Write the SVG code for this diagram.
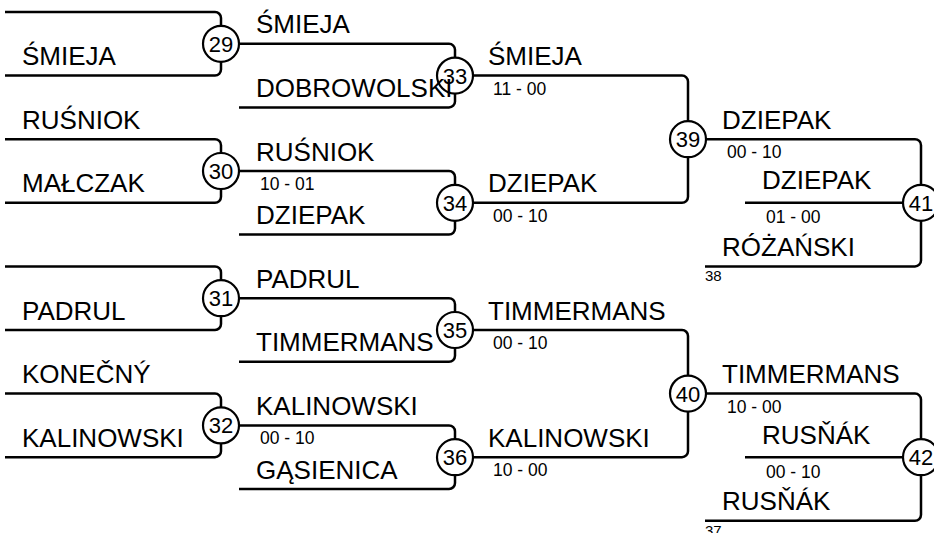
<svg xmlns="http://www.w3.org/2000/svg" width="934" height="533" viewBox="0 0 934 533">
<style>
.c{fill:none;stroke:#000;stroke-width:2.5;stroke-linecap:butt}
.n{fill:#fff;stroke:#000;stroke-width:2.2}
.t{font-family:"Liberation Sans",Arial,sans-serif;font-size:26px;fill:#000}
.s{font-family:"Liberation Sans",Arial,sans-serif;font-size:17.5px;fill:#000}
.k{font-family:"Liberation Sans",Arial,sans-serif;font-size:22px;fill:#000;text-anchor:middle}
.f{font-family:"Liberation Sans",Arial,sans-serif;font-size:15px;fill:#000}
</style>
<rect width="934" height="533" fill="#fff"/>
<g id="connectors">
<path class="c" d="M5,12 H215 A6,6 0 0 1 221,18 V25.8 M221,61.8 V69.6 A6,6 0 0 1 215,75.6 H5"/>
<path class="c" d="M5,139.2 H215 A6,6 0 0 1 221,145.2 V153 M221,189 V196.8 A6,6 0 0 1 215,202.8 H5"/>
<path class="c" d="M5,266.4 H215 A6,6 0 0 1 221,272.4 V280.2 M221,316.2 V324 A6,6 0 0 1 215,330 H5"/>
<path class="c" d="M5,393.6 H215 A6,6 0 0 1 221,399.6 V407.4 M221,443.4 V451.2 A6,6 0 0 1 215,457.2 H5"/>
<path class="c" d="M239,43.8 H449 A6,6 0 0 1 455,49.8 V57.6 M455,93.6 V101.4 A6,6 0 0 1 449,107.4 H239"/>
<path class="c" d="M239,171 H449 A6,6 0 0 1 455,177 V184.8 M455,220.8 V228.6 A6,6 0 0 1 449,234.6 H239"/>
<path class="c" d="M239,298.2 H449 A6,6 0 0 1 455,304.2 V312 M455,348 V355.8 A6,6 0 0 1 449,361.8 H239"/>
<path class="c" d="M239,425.4 H449 A6,6 0 0 1 455,431.4 V439.2 M455,475.2 V483 A6,6 0 0 1 449,489 H239"/>
<path class="c" d="M473,75.6 H682 A6,6 0 0 1 688,81.6 V121.2 M688,157.2 V196.8 A6,6 0 0 1 682,202.8 H473"/>
<path class="c" d="M473,330 H682 A6,6 0 0 1 688,336 V375.6 M688,411.6 V451.2 A6,6 0 0 1 682,457.2 H473"/>
<path class="c" d="M706,139.2 H915 A6,6 0 0 1 921,145.2 V184.8 M745,202.8 H903 M921,220.8 V260.4 A6,6 0 0 1 915,266.4 H705"/>
<path class="c" d="M706,393.6 H915 A6,6 0 0 1 921,399.6 V439.2 M745,457.2 H903 M921,475.2 V514.8 A6,6 0 0 1 915,520.8 H705"/>
</g>
<g id="m29"><circle class="n" cx="221" cy="43.8" r="18"/><text class="k" x="221" y="51.8">29</text></g>
<g id="m30"><circle class="n" cx="221" cy="171" r="18"/><text class="k" x="221" y="179">30</text></g>
<g id="m31"><circle class="n" cx="221" cy="298.2" r="18"/><text class="k" x="221" y="306.2">31</text></g>
<g id="m32"><circle class="n" cx="221" cy="425.4" r="18"/><text class="k" x="221" y="433.4">32</text></g>
<g id="m33"><circle class="n" cx="455" cy="75.6" r="18"/><text class="k" x="455" y="83.6">33</text></g>
<g id="m34"><circle class="n" cx="455" cy="202.8" r="18"/><text class="k" x="455" y="210.8">34</text></g>
<g id="m35"><circle class="n" cx="455" cy="330" r="18"/><text class="k" x="455" y="338">35</text></g>
<g id="m36"><circle class="n" cx="455" cy="457.2" r="18"/><text class="k" x="455" y="465.2">36</text></g>
<g id="m39"><circle class="n" cx="688" cy="139.2" r="18"/><text class="k" x="688" y="147.2">39</text></g>
<g id="m40"><circle class="n" cx="688" cy="393.6" r="18"/><text class="k" x="688" y="401.6">40</text></g>
<g id="m41"><circle class="n" cx="921" cy="202.8" r="18"/><text class="k" x="921" y="210.8">41</text></g>
<g id="m42"><circle class="n" cx="921" cy="457.2" r="18"/><text class="k" x="921" y="465.2">42</text></g>
<g id="labels">
<text class="t" x="22" y="65">ŚMIEJA</text>
<text class="t" x="22" y="128.7">RUŚNIOK</text>
<text class="t" x="22" y="192.3">MAŁCZAK</text>
<text class="t" x="22" y="319.5">PADRUL</text>
<text class="t" x="22" y="383.1">KONEČNÝ</text>
<text class="t" x="22" y="446.7">KALINOWSKI</text>
<text class="t" x="256" y="33.3">ŚMIEJA</text>
<text class="t" x="256" y="96.9">DOBROWOLSKI</text>
<text class="t" x="256" y="160.5">RUŚNIOK</text>
<text class="s" x="260" y="190">10 - 01</text>
<text class="t" x="256" y="224.1">DZIEPAK</text>
<text class="t" x="256" y="287.7">PADRUL</text>
<text class="t" x="256" y="351.3">TIMMERMANS</text>
<text class="t" x="256" y="414.9">KALINOWSKI</text>
<text class="s" x="260" y="444.4">00 - 10</text>
<text class="t" x="256" y="478.5">GĄSIENICA</text>
<text class="t" x="488" y="65.1">ŚMIEJA</text>
<text class="s" x="493" y="94.6">11 - 00</text>
<text class="t" x="488" y="192.3">DZIEPAK</text>
<text class="s" x="493" y="221.8">00 - 10</text>
<text class="t" x="488" y="319.5">TIMMERMANS</text>
<text class="s" x="493" y="349">00 - 10</text>
<text class="t" x="488" y="446.7">KALINOWSKI</text>
<text class="s" x="493" y="476.2">10 - 00</text>
<text class="t" x="722" y="128.7">DZIEPAK</text>
<text class="s" x="727" y="158.2">00 - 10</text>
<text class="t" x="762" y="189.3">DZIEPAK</text>
<text class="s" x="766" y="223.3">01 - 00</text>
<text class="t" x="722" y="255.9">RÓŻAŃSKI</text>
<text class="f" x="705" y="281.4">38</text>
<text class="t" x="722" y="383.1">TIMMERMANS</text>
<text class="s" x="727" y="412.6">10 - 00</text>
<text class="t" x="762" y="443.7">RUSŇÁK</text>
<text class="s" x="766" y="477.7">00 - 10</text>
<text class="t" x="722" y="510.3">RUSŇÁK</text>
<text class="f" x="705" y="535.8">37</text>
</g>
</svg>
